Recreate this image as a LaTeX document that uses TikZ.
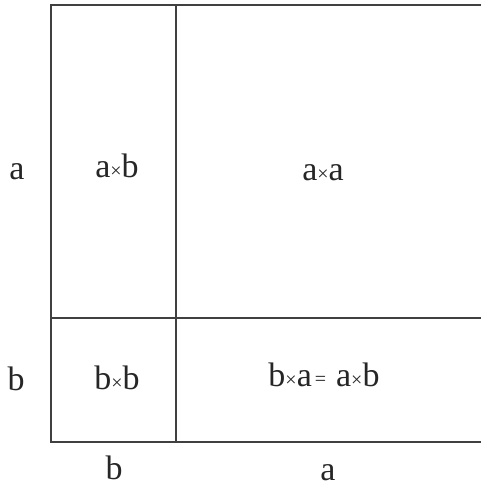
\documentclass[tikz,border=0pt]{standalone}
\usepackage{fontspec}
\setmainfont{Liberation Serif}
\usetikzlibrary{positioning}

\newcommand{\smallsym}[1]{{\fontsize{20}{22}\selectfont #1}}

\begin{document}
\begin{tikzpicture}[x=1pt, y=-1pt,
    edge/.style={draw=black!75, line width=2pt},
    lbl/.style={font=\fontsize{34}{38}\selectfont, inner sep=0pt, anchor=base, text=black!85}
]
\useasboundingbox (0,0) rectangle (481,486);
\coordinate (tl) at (51,5);
\coordinate (tm) at (176,5);
\coordinate (tr) at (481,5);
\coordinate (ml) at (51,318);
\coordinate (mr) at (481,318);
\coordinate (bl) at (51,442);
\coordinate (bm) at (176,442);
\coordinate (br) at (481,442);

\draw[edge] (tr) -- (tl) -- (bl) -- (br);
\draw[edge] (tm) -- (bm);
\draw[edge] (ml) -- (mr);

% side lengths
\node[lbl] (sideA) at (17,179) {a};
\node[lbl] (sideB) at (16,390) {b};
\node[lbl] (baseB) at (114,479) {b};
\node[lbl] (baseA) at (328,480) {a};

% areas
\node[lbl] (ab) at (117,178) {a\smallsym{×}b};
\node[lbl] (aa) at (323,181) {a\smallsym{×}a};
\node[lbl] (bb) at (117,389) {b\smallsym{×}b};
\node[lbl] (ba) at (324,386) {b\smallsym{×}a\hspace{3pt}\raisebox{1pt}{\smallsym{=}}\hspace{10pt}a\smallsym{×}b};
\end{tikzpicture}
\end{document}
